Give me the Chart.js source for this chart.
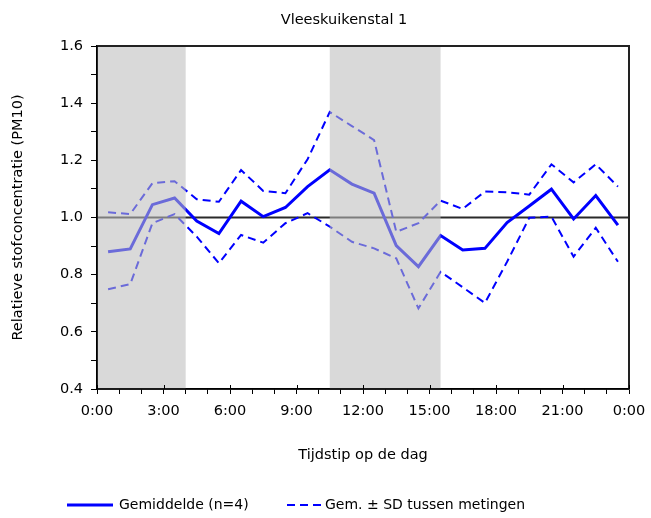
<!DOCTYPE html>
<html>
<head>
<meta charset="utf-8">
<script src="https://cdn.jsdelivr.net/npm/chart.js@4/dist/chart.umd.min.js"></script>
<style>
html,body{margin:0;padding:0;background:#fff;}
#wrap{width:651px;height:518px;position:relative;}
</style>
</head>
<body>
<div id="wrap"><canvas id="c" width="651" height="518"></canvas></div>
<script>
// Hours of the day (mid-hour measurement points)
const hours = [0.5,1.5,2.5,3.5,4.5,5.5,6.5,7.5,8.5,9.5,10.5,11.5,12.5,13.5,14.5,15.5,16.5,17.5,18.5,19.5,20.5,21.5,22.5,23.5];
// Mean relative concentration (n=4)
const meanValues = [0.88,0.89,1.045,1.068,0.988,0.944,1.057,1.003,1.035,1.108,1.167,1.117,1.085,0.902,0.828,0.937,0.886,0.892,0.982,1.04,1.099,0.995,1.077,0.973];
// Mean + SD
const upperValues = [1.018,1.012,1.12,1.127,1.064,1.055,1.166,1.093,1.085,1.204,1.369,1.32,1.271,0.95,0.98,1.059,1.03,1.091,1.088,1.08,1.186,1.123,1.186,1.108];
// Mean - SD
const lowerValues = [0.749,0.767,0.98,1.012,0.933,0.84,0.939,0.912,0.98,1.015,0.968,0.915,0.892,0.857,0.682,0.81,0.756,0.701,0.845,0.999,1.003,0.863,0.964,0.845];
// Reference level
const referenceLevel = [1.0, 1.0];
const referenceHours = [0, 24];
// Shaded periods (hours)
const shadedPeriods = [[0,4],[10.5,15.5]];
// Text
const chartTitle = 'Vleeskuikenstal 1';
const xTitle = 'Tijdstip op de dag';
const yTitle = 'Relatieve stofconcentratie (PM10)';
const legendLabels = ['Gemiddelde (n=4)', 'Gem. \u00B1 SD tussen metingen'];

const FONT = "Verdana, 'DejaVu Sans', sans-serif";
const FS = 14.5;
const BLUE = '#0000FF';

const toXY = (xs, ys) => xs.map((x, i) => ({x: x, y: ys[i]}));

const overlayPlugin = {
  id: 'overlay',
  afterDatasetsDraw(chart) {
    const {ctx, chartArea: a, scales: {x, y}} = chart;
    ctx.save();
    ctx.fillStyle = 'rgba(188,188,188,0.57)';
    shadedPeriods.forEach(([s, e]) => {
      const x0 = x.getPixelForValue(s), x1 = x.getPixelForValue(e);
      ctx.fillRect(x0, a.top, x1 - x0, a.bottom - a.top);
    });
    // frame
    ctx.strokeStyle = '#222';
    ctx.lineWidth = 2;
    ctx.beginPath();
    ctx.moveTo(a.left, a.top); ctx.lineTo(a.right, a.top); ctx.lineTo(a.right, a.bottom);
    ctx.stroke();
    ctx.strokeStyle = '#000';
    ctx.lineWidth = 1.5;
    ctx.beginPath();
    ctx.moveTo(a.left, a.top); ctx.lineTo(a.left, a.bottom); ctx.lineTo(a.right, a.bottom);
    ctx.stroke();
    // major x ticks crossing the axis
    ctx.lineWidth = 1;
    for (let h = 0; h <= 24; h += 3) {
      const px = Math.round(x.getPixelForValue(h)) + 0.5;
      ctx.beginPath(); ctx.moveTo(px, a.bottom - 4); ctx.lineTo(px, a.bottom); ctx.stroke();
    }
    ctx.restore();
  },
  afterDraw(chart) {
    const ctx = chart.ctx;
    ctx.save();
    ctx.fillStyle = '#000';
    ctx.font = FS + 'px ' + FONT;
    ctx.textBaseline = 'middle';
    ctx.textAlign = 'center';
    ctx.fillText(chartTitle, 344, 20);
    // legend
    ctx.font = '14px ' + FONT;
    ctx.textAlign = 'left';
    ctx.strokeStyle = BLUE;
    ctx.lineWidth = 3;
    ctx.beginPath(); ctx.moveTo(67, 505); ctx.lineTo(113, 505); ctx.stroke();
    ctx.fillText(legendLabels[0], 119, 505);
    ctx.lineWidth = 2;
    ctx.setLineDash([8,5]);
    ctx.beginPath(); ctx.moveTo(287, 505); ctx.lineTo(321, 505); ctx.stroke();
    ctx.setLineDash([]);
    ctx.fillText(legendLabels[1], 325, 505);
    ctx.restore();
  }
};

new Chart(document.getElementById('c'), {
  type: 'line',
  data: {
    datasets: [
      {label: legendLabels[0], data: toXY(hours, meanValues), borderColor: BLUE, borderWidth: 3, pointRadius: 0, tension: 0},
      {label: legendLabels[1], data: toXY(hours, upperValues), borderColor: BLUE, borderWidth: 2, borderDash: [8,5], pointRadius: 0, tension: 0},
      {label: 'lower', data: toXY(hours, lowerValues), borderColor: BLUE, borderWidth: 2, borderDash: [8,5], pointRadius: 0, tension: 0},
      {label: 'ref', data: toXY(referenceHours, referenceLevel), borderColor: '#2a2a2a', borderWidth: 2, pointRadius: 0, tension: 0}
    ]
  },
  options: {
    responsive: false,
    animation: false,
    events: [],
    layout: {padding: {left: 6, right: 22, top: 46, bottom: 50}},
    plugins: {legend: {display: false}, title: {display: false}, tooltip: {enabled: false}},
    scales: {
      x: {
        type: 'linear', min: 0, max: 24,
        afterFit: s => { s.height = 79; s.paddingLeft = 0; s.paddingRight = 0; },
        ticks: {
          stepSize: 1, autoSkip: false, maxRotation: 0, padding: 9,
          color: '#000', font: {family: FONT, size: FS},
          callback: v => (v % 3 === 0) ? ((v % 24) + ':00') : ''
        },
        grid: {drawOnChartArea: false, tickLength: 5, color: '#000'},
        border: {color: '#000', width: 1.5},
        title: {display: true, text: xTitle, color: '#000', font: {family: FONT, size: FS}}
      },
      y: {
        min: 0.4, max: 1.6,
        afterFit: s => { s.width = 91; s.paddingTop = 0; s.paddingBottom = 0; },
        ticks: {
          stepSize: 0.1, autoSkip: false, padding: 8,
          color: '#000', font: {family: FONT, size: FS},
          callback: v => (Math.round(v * 10) % 2 === 0) ? v.toFixed(1) : ''
        },
        grid: {drawOnChartArea: false, tickLength: 6, color: '#000'},
        border: {color: '#000', width: 1.5},
        title: {display: true, text: yTitle, color: '#000', font: {family: FONT, size: FS}}
      }
    }
  },
  plugins: [overlayPlugin]
});
</script>
</body>
</html>
